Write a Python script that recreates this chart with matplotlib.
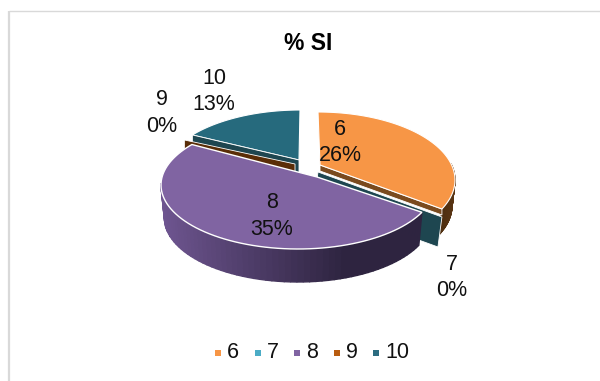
import numpy as np
import matplotlib
matplotlib.use('Agg')
import matplotlib.pyplot as plt
from matplotlib.colors import to_rgb
from matplotlib.patches import Polygon

plt.rcParams['font.family'] = ['Liberation Sans', 'DejaVu Sans']

# data
categories = ['6', '7', '8', '9', '10']
percent = [26, 0, 35, 0, 13]

legend_colors = ['#F79646', '#4BACC6', '#8064A2', '#B85C10', '#2C6C80']
top_colors = ['#F79646', '#1E4650', '#8064A2', '#5A2D07', '#266A7D']
wall_colors = ['#7A4A1E', '#1E4650', '#5A4A80', '#5A2D07', '#1E4650']

# each slice sits at its own place in the picture (explosion + perspective)
ell_centre = {'6': (318, 180), '8': (298, 185), '10': (300, 178)}
ell_radius = {'6': (137, 68), '8': (137, 64), '10': (139, 68)}
apex = {'6': (320, 165), '7': (318, 172), '8': (317, 177), '9': (295, 164), '10': (299, 160)}
depth = 30

label_pos = {'6': (340, 142.5), '7': (452, 277.5), '8': (272, 216), '9': (162, 113), '10': (214, 91.5)}
legend_x = [218, 258, 297, 337, 376]


def warp(theta):
    # perspective pulls the points towards the back of the pie
    return np.radians(theta - 14 * np.sin(np.radians(theta)))


def arc(cat, t0, t1, n=80):
    cx, cy = ell_centre[cat]
    rx, ry = ell_radius[cat]
    t = warp(np.linspace(t0, t1, n))
    return np.column_stack([cx + rx * np.sin(t), cy - ry * np.cos(t)])


def shade(c1, c2, f):
    a, b = np.array(to_rgb(c1)), np.array(to_rgb(c2))
    return a + (b - a) * f


# angles from the values
total = sum(percent)
edges = np.concatenate([[0], np.cumsum(percent) / total * 360])
start = dict(zip(categories, edges[:-1]))
stop = dict(zip(categories, edges[1:]))

fig = plt.figure(figsize=(6, 3.81), dpi=100)
ax = fig.add_axes([0, 0, 1, 1])
ax.set_xlim(0, 600)
ax.set_ylim(381, 0)
ax.axis('off')

# chart border
ax.plot([9, 9], [381, 10.5], color='#D9D9D9', lw=1.6, solid_capstyle='butt')
ax.plot([9, 600], [10.5, 10.5], color='#D9D9D9', lw=1, solid_capstyle='butt')

# slice 10
pts = arc('10', start['10'], stop['10'])
ax.add_patch(Polygon(np.vstack([apex['10'], pts]), fc=top_colors[4], ec='white', lw=0.8, zorder=2))
edge10 = pts[0]
ax.add_patch(Polygon([apex['10'], edge10, edge10 + [0, depth], np.array(apex['10']) + [0, depth]],
                     fc=wall_colors[4], ec='white', lw=0.6, zorder=3))

# slice 9, no area, only its wall shows
p9 = arc('10', start['9'], start['9'] + 0.01, 2)[0] + [-8, 5]
a9 = np.array(apex['9'])
ax.add_patch(Polygon([a9, p9, p9 + [0, depth], a9 + [0, depth]], fc=top_colors[3], ec='white', lw=0.6, zorder=4))

# slice 7, same
p7 = arc('6', start['7'], start['7'] + 0.01, 2)[0] + [0, 8]
a7 = np.array(apex['7'])
ax.add_patch(Polygon([a7, p7, p7 + [-4, depth], a7 + [-4, depth]], fc=top_colors[1], ec='white', lw=0.6, zorder=4))

# slice 6: outer wall, cut wall, top
pts = arc('6', 90, stop['6'])
for i in range(len(pts) - 1):
    f = i / (len(pts) - 1)
    c = shade('#6A3F18', '#4E2E10', f)
    ax.add_patch(Polygon([pts[i], pts[i + 1], pts[i + 1] + [-3, depth - 4], pts[i] + [-3, depth - 4]],
                         fc=c, ec=c, lw=0.8, zorder=3))
pts = arc('6', start['6'], stop['6'])
a6 = np.array(apex['6'])
ax.add_patch(Polygon([a6, pts[-1], pts[-1] + [0, 6], a6 + [0, 6]], fc=wall_colors[0], ec='white', lw=0.6, zorder=5))
ax.add_patch(Polygon(np.vstack([a6, pts]), fc=top_colors[0], ec='white', lw=0.8, zorder=6))

# slice 8: outer wall with gradient, then top
pts = arc('8', start['8'], stop['8'])
cx = ell_centre['8'][0]
for i in range(len(pts) - 1):
    if pts[i][1] < ell_centre['8'][1] and pts[i + 1][1] < ell_centre['8'][1]:
        continue
    f = (pts[i][0] - pts[:, 0].min()) / (pts[:, 0].max() - pts[:, 0].min())
    low = lambda p: [cx + (p[0] - cx) * 0.975, p[1] + depth + 3]
    c = shade('#6E5590', '#2E2440', min(f * 1.4, 1))
    ax.add_patch(Polygon([pts[i], pts[i + 1], low(pts[i + 1]), low(pts[i])],
                         fc=c, ec=c, lw=1.0, zorder=7))
ax.add_patch(Polygon(np.vstack([apex['8'], pts]), fc=top_colors[2], ec='white', lw=1, zorder=8))

ax.text(308, 44, '% SI', ha='center', va='center', fontsize=16.5, fontweight='bold', color='black')

# data labels
for cat, p in zip(categories, percent):
    x, y = label_pos[cat]
    ax.text(x, y, f'{cat}\n{p}%', ha='center', va='center', fontsize=15.5, color='#111111', linespacing=1.33, zorder=10)

# legend
for x, cat, c in zip(legend_x, categories, legend_colors):
    ax.scatter([x], [353], marker='s', s=22, color=c, linewidths=0)
    ax.text(x + 9, 353, cat, ha='left', va='center', fontsize=15.5, color='#111111')

fig.savefig('out.png', dpi=100)
